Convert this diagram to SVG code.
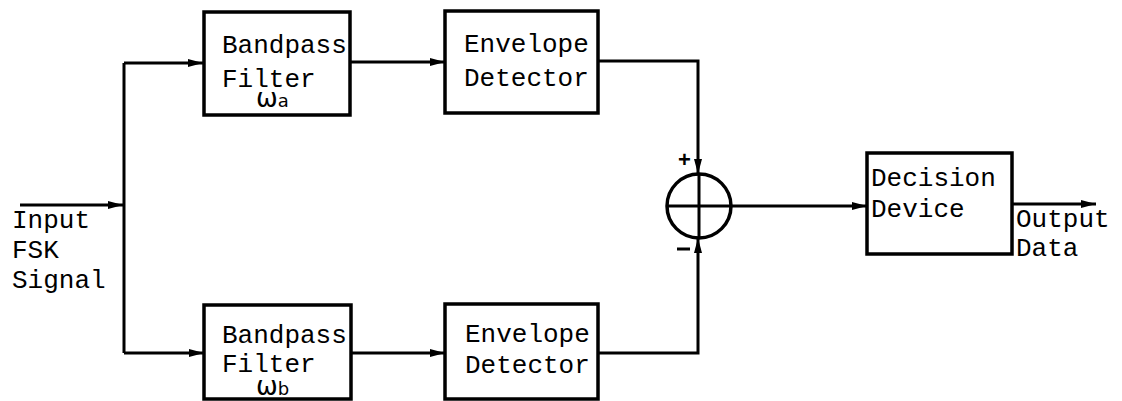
<svg xmlns="http://www.w3.org/2000/svg" width="1122" height="401" viewBox="0 0 1122 401">
<style>
.box{fill:#fff;stroke:#000;stroke-width:3.5}
.ln{fill:none;stroke:#000;stroke-width:3}
.t{font-family:"Liberation Mono","Courier New",monospace;font-size:26px;fill:#000}
.w{font-family:"DejaVu Sans",sans-serif;font-size:26px;fill:#000}
.s{font-family:"Liberation Sans",Arial,sans-serif;font-size:22px;font-weight:bold;fill:#000}
</style>
<defs>
<marker id="ar" viewBox="0 0 15 10" refX="15" refY="5" markerWidth="15" markerHeight="10" markerUnits="userSpaceOnUse" orient="auto">
<path d="M0,1 L15,5 L0,9 Z" fill="#000"/>
</marker>
</defs>
<rect width="1122" height="401" fill="#fff"/>
<g id="connectors">
<path class="ln" d="M20,205 H123" marker-end="url(#ar)"/>
<path class="ln" d="M124,63 V353"/>
<path class="ln" d="M124,63 H203" marker-end="url(#ar)"/>
<path class="ln" d="M124,353 H204" marker-end="url(#ar)"/>
<path class="ln" d="M351,62 H445" marker-end="url(#ar)"/>
<path class="ln" d="M351,353 H445" marker-end="url(#ar)"/>
<path class="ln" d="M598,61 H698 V174" marker-end="url(#ar)"/>
<path class="ln" d="M598,353 H698 V238" marker-end="url(#ar)"/>
<path class="ln" d="M731,206 H867" marker-end="url(#ar)"/>
<path class="ln" d="M1012,204 H1096" marker-end="url(#ar)"/>
<text class="s" x="678" y="167">+</text>
<path d="M677,249 H690" stroke="#000" stroke-width="3"/>
</g>
<g id="bpf_a">
<rect class="box" x="204" y="12" width="146" height="103"/>
<text class="t" x="222" y="53">Bandpass</text>
<text class="t" x="222" y="87">Filter</text>
<text class="w" x="256" y="107">ω<tspan font-size="18">a</tspan></text>
</g>
<g id="env_a">
<rect class="box" x="445" y="11" width="153" height="102"/>
<text class="t" x="464" y="52">Envelope</text>
<text class="t" x="464" y="86">Detector</text>
</g>
<g id="bpf_b">
<rect class="box" x="204" y="305" width="147" height="94"/>
<text class="t" x="222" y="343">Bandpass</text>
<text class="t" x="222" y="372">Filter</text>
<text class="w" x="256" y="395">ω<tspan font-size="18">b</tspan></text>
</g>
<g id="env_b">
<rect class="box" x="445" y="304" width="153" height="95"/>
<text class="t" x="465" y="342">Envelope</text>
<text class="t" x="465" y="373">Detector</text>
</g>
<g id="summer">
<circle cx="699" cy="206" r="32" fill="#fff" stroke="#000" stroke-width="3.5"/>
<path d="M667,206 H731 M699,174 V238" stroke="#000" stroke-width="3"/>
</g>
<g id="decision">
<rect class="box" x="867" y="153" width="145" height="101"/>
<text class="t" x="871" y="186">Decision</text>
<text class="t" x="871" y="217">Device</text>
</g>
<g id="input_label">
<text class="t" x="12" y="228">Input</text>
<text class="t" x="12" y="258">FSK</text>
<text class="t" x="12" y="288">Signal</text>
</g>
<g id="output_label">
<text class="t" x="1016" y="227">Output</text>
<text class="t" x="1016" y="256">Data</text>
</g>
</svg>
